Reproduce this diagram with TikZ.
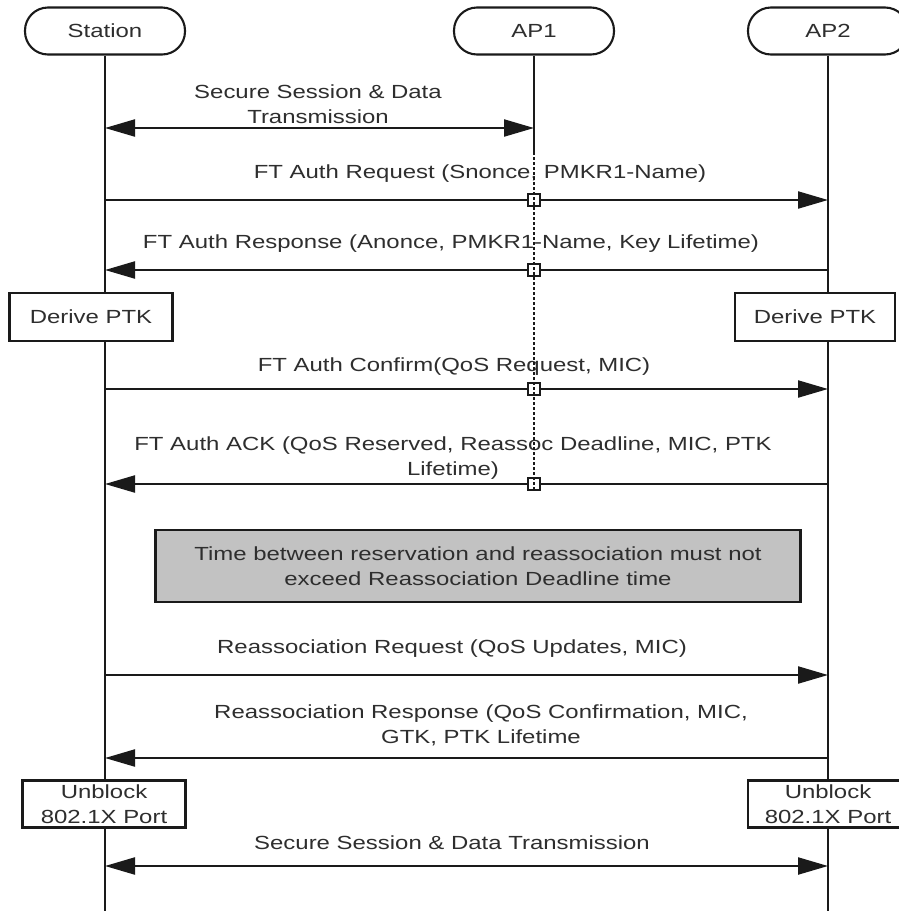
\documentclass[tikz,border=0pt]{standalone}
\usepackage{fontspec}
\setmainfont{Liberation Sans}[FakeStretch=1.26]
\usetikzlibrary{arrows.meta}

\definecolor{ink}{HTML}{1A1A1A}
\definecolor{txt}{HTML}{2E2E2E}
\definecolor{noteFill}{HTML}{C2C2C2}

\tikzset{
  lbl/.style={text=txt, font=\fontsize{19}{25}\selectfont, align=center, inner sep=0pt},
  actor/.style={lbl, draw=ink, line width=2.1pt, rounded corners=23pt, fill=white,
                minimum width=160pt, minimum height=47pt},
  life/.style={draw=ink, line width=2.1pt},
  dotlife/.style={draw=ink, line width=2.1pt, dash pattern=on 2.6pt off 2.4pt},
  msg/.style={draw=ink, line width=2.2pt, -{Triangle[length=30pt,width=17pt]}},
  duplex/.style={draw=ink, line width=2.2pt, {Triangle[length=30pt,width=17pt]}-{Triangle[length=30pt,width=17pt]}},
  procbox/.style={lbl, draw=ink, line width=2.1pt, fill=white},
  notebox/.style={lbl, draw=ink, line width=2.1pt, fill=noteFill,
                  minimum width=645pt, minimum height=72pt},
  relay/.style={draw=ink, line width=2pt, fill=white, minimum size=12.5pt, inner sep=0pt},
}

\begin{document}
\begin{tikzpicture}[x=1pt, y=-1pt]
  \clip (0,0) rectangle (899,911);
  \fill[white] (0,0) rectangle (899,911);

  % participants
  \node[actor] (station) at (105,31) {Station};
  \node[actor] (ap1) at (534,31) {AP1};
  \node[actor] (ap2) at (828,31) {AP2};

  % lifeline end points
  \coordinate (stationEnd) at (105,915);
  \coordinate (ap2End) at (828,915);
  \coordinate (ap1Split) at (534,152);
  \coordinate (ap1End) at (534,490);

  \draw[life] (station.south) -- (stationEnd);
  \draw[life] (ap2.south) -- (ap2End);
  \draw[life] (ap1.south) -- (ap1Split);

  % message anchor points on the lifelines
  \foreach \n/\y in {m1/128, m2/200, m3/270, m5/389, m6/484, m8/675, m9/758, m11/866} {
    \coordinate (s\n) at (105,\y);
    \coordinate (a\n) at (534,\y);
    \coordinate (b\n) at (828,\y);
  }

  % Secure session with AP1
  \node[lbl] (t1) at (318,104) {Secure Session \& Data\\Transmission};
  \draw[duplex] (sm1) -- (am1);

  % FT authentication
  \node[lbl] (t2) at (480,174) {FT Auth Request (Snonce, PMKR1-Name)};
  \draw[msg] (sm2) -- (bm2);

  \node[lbl] (t3) at (451,244) {FT Auth Response (Anonce, PMKR1-Name, Key Lifetime)};
  \draw[msg] (bm3) -- (sm3);

  \node[procbox, minimum width=163pt, minimum height=48pt] (dl) at (91,317) {Derive PTK};
  \node[procbox, minimum width=160pt, minimum height=48pt] (dr) at (815,317) {Derive PTK};

  \node[lbl] (t5) at (454,367) {FT Auth Confirm(QoS Request, MIC)};
  \draw[msg] (sm5) -- (bm5);

  \node[lbl] (t6) at (453,458) {FT Auth ACK (QoS Reserved, Reassoc Deadline, MIC, PTK\\Lifetime)};
  \draw[msg] (bm6) -- (sm6);

  % relay markers where AP1 forwards the FT frames
  \foreach \n in {m2,m3,m5,m6} {
    \node[relay] at (a\n) {};
  }
  \draw[dotlife] (ap1Split) -- (ap1End);

  % deadline note
  \node[notebox] (note) at (478,566) {Time between reservation and reassociation must not\\exceed Reassociation Deadline time};

  % reassociation
  \node[lbl] (t8) at (452,649) {Reassociation Request (QoS Updates, MIC)};
  \draw[msg] (sm8) -- (bm8);

  \node[lbl] (t9) at (481,725) {Reassociation Response (QoS Confirmation, MIC,\\GTK, PTK Lifetime};
  \draw[msg] (bm9) -- (sm9);

  \node[procbox, minimum width=163pt, minimum height=47pt] (ul) at (104,804) {Unblock\\802.1X Port};
  \node[procbox, minimum width=160pt, minimum height=47pt] (ur) at (828,804) {Unblock\\802.1X Port};

  % secure session with AP2
  \node[lbl] (t11) at (452,843) {Secure Session \& Data Transmission};
  \draw[duplex] (sm11) -- (bm11);
\end{tikzpicture}
\end{document}
